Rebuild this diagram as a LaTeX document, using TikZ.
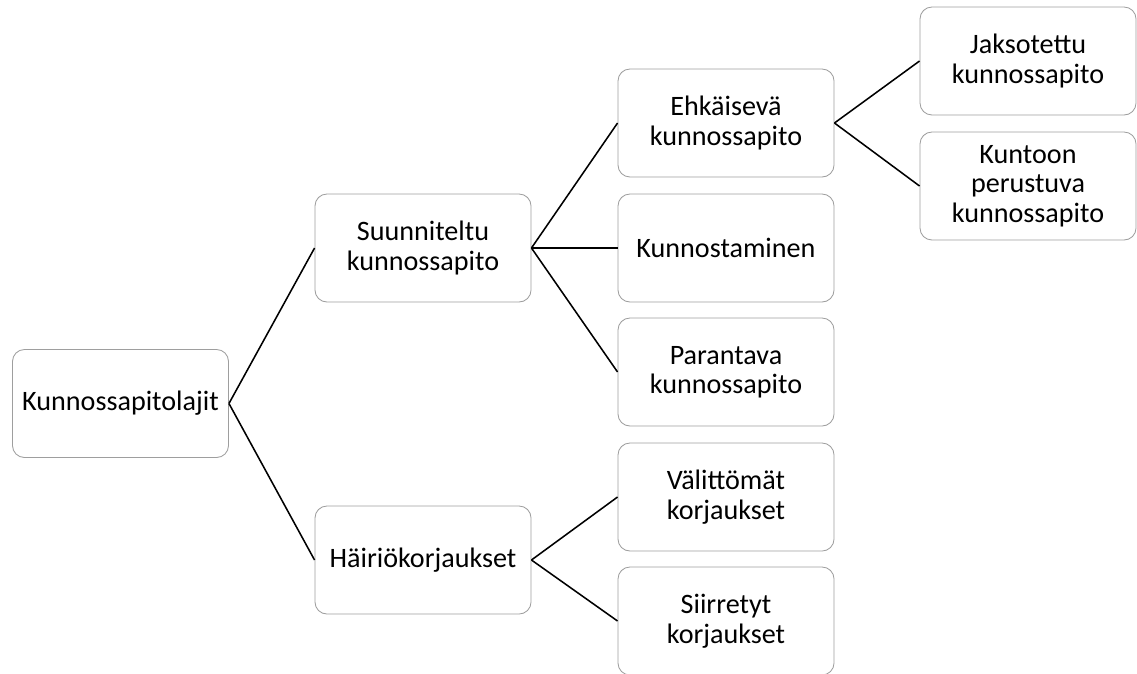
\documentclass[tikz,border=0pt]{standalone}
\usepackage{fontspec}
\setmainfont{Carlito}
\tikzset{
    huolto/.style={draw=black!38, line width=0.6pt, rounded corners=0.3cm, fill=white,
        minimum width=5.4cm, minimum height=2.7cm, align=center, inner sep=0pt,
        font=\fontsize{20}{21}\selectfont},
    haara/.style={line width=1.1pt, black}
}
\begin{document}
\begin{tikzpicture}[x=0.025cm, y=-0.025cm]
\clip (0, 0) rectangle (1137, 673);
%root
\node[huolto] (lajit) at (120.5, 403.5) {Kunnossapitolajit};
%second level
\node[huolto] (suunn) at (423, 248) {Suunniteltu\\kunnossapito};
\node[huolto] (hairio) at (423, 560) {Häiriökorjaukset};
%third level
\node[huolto] (ehk) at (726, 123) {Ehkäisevä\\kunnossapito};
\node[huolto] (kunnost) at (726, 248) {Kunnostaminen};
\node[huolto] (parant) at (726, 372) {Parantava\\kunnossapito};
\node[huolto] (valitt) at (726, 497) {Välittömät\\korjaukset};
\node[huolto] (siirr) at (726, 621) {Siirretyt\\korjaukset};
%fourth level
\node[huolto] (jakso) at (1028, 61) {Jaksotettu\\kunnossapito};
\node[huolto] (kuntoon) at (1028, 186) {Kuntoon\\perustuva\\kunnossapito};
%branches
\draw[haara] (lajit.east) -- (suunn.west);
\draw[haara] (lajit.east) -- (hairio.west);
\draw[haara] (suunn.east) -- (ehk.west);
\draw[haara] (suunn.east) -- (kunnost.west);
\draw[haara] (suunn.east) -- (parant.west);
\draw[haara] (hairio.east) -- (valitt.west);
\draw[haara] (hairio.east) -- (siirr.west);
\draw[haara] (ehk.east) -- (jakso.west);
\draw[haara] (ehk.east) -- (kuntoon.west);
\end{tikzpicture}
\end{document}
